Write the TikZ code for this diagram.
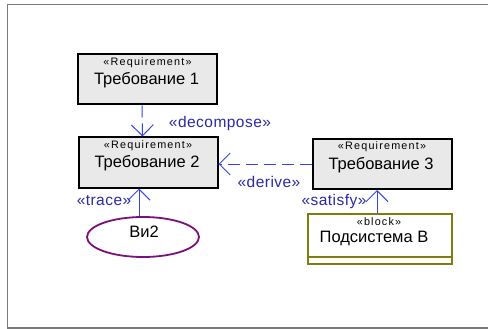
\documentclass[tikz,border=0pt]{standalone}
\usepackage{fontspec}
\setmainfont{Liberation Sans}
\usetikzlibrary{arrows.meta,shapes.geometric,calc}
\definecolor{reqfill}{HTML}{E8E9E8}
\definecolor{deplink}{HTML}{3344E8}
\definecolor{deptext}{HTML}{2A2AA0}
\definecolor{usecase}{HTML}{7A107A}
\definecolor{blockline}{HTML}{7E7E10}
\definecolor{framegray}{HTML}{7A7A7A}
\tikzset{
  req/.style={draw=black, line width=2pt, fill=reqfill, rectangle,
    minimum width=139pt, minimum height=50pt, inner sep=0pt},
  blk/.style={draw=blockline, line width=2pt, fill=white, rectangle,
    minimum width=144pt, minimum height=50pt, inner sep=0pt},
  uc/.style={draw=usecase, line width=1.8pt, ellipse, fill=white,
    minimum width=112pt, minimum height=40pt, inner sep=0pt},
  stereo/.style={font=\fontsize{10.8}{12}\selectfont\addfontfeatures{LetterSpace=11}, inner sep=0pt},
  title/.style={font=\fontsize{16.5}{18}\selectfont, inner sep=0pt},
  deplabel/.style={font=\fontsize{15.5}{17}\selectfont\addfontfeatures{LetterSpace=3}, text=deptext, inner sep=0pt},
  dep/.style={draw=deplink, line width=1pt,
    -{Straight Barb[length=11pt,width=22pt,line width=1pt]}},
  dashdep/.style={dep, dash pattern=on 12pt off 6pt}
}
\begin{document}
\begin{tikzpicture}[x=1pt,y=-1pt]
  \useasboundingbox (0,0) rectangle (488,329);
  % open frame on the left, top and bottom
  \draw[framegray, line width=1.8pt] (490,4.5) -- (7.5,4.5) -- (7.5,328) -- (490,328);

  % requirements
  \node[req] (r1) at (147.5,79.5) {};
  \node[req] (r2) at (148,162.5) {};
  \node[req] (r3) at (382,164) {};
  \foreach \n/\t in {r1/Требование 1, r2/Требование 2, r3/Требование 3}{
    \node[stereo] at ($(\n.north)+(0,9)$) {«Requirement»};
    \node[title] at ($(\n.north)+(-1,27)$) {\t};
  }

  % block
  \node[blk] (b) at (380,239) {};
  \draw[blockline, line width=2pt] (b.west |- 0,257) -- (b.east |- 0,257);
  \node[stereo] at ($(b.north)+(-1,9)$) {«block»};
  \node[title] at ($(b.north)+(-6,25)$) {Подсистема В};

  % use case
  \node[uc] (u) at (143,237) {};
  \node[title] at ($(u.center)+(1,-5)$) {Ви2};

  % dependencies
  \draw[dashdep] ([xshift=-5.5pt]r1.south) -- ([xshift=-5.5pt]r2.north);
  \node[deplabel] at (220,123) {«decompose»};

  \draw[dashdep] (r3.west) -- (r2.east |- r3.west);
  \node[deplabel] at (269,182) {«derive»};

  \draw[dep] ([xshift=-4pt]u.north) -- ([xshift=-4pt]u.north |- r2.south);
  \node[deplabel] at (104,201) {«trace»};

  \draw[dep] ([xshift=-3pt]b.north) -- ([xshift=-3pt]b.north |- r3.south);
  \node[deplabel] at (334,201) {«satisfy»};
\end{tikzpicture}
\end{document}
